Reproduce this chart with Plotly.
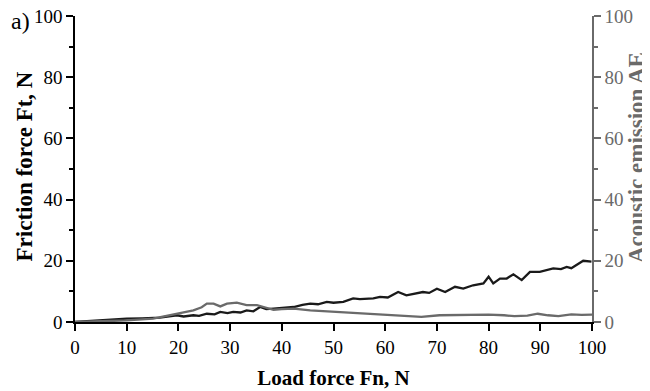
import plotly.graph_objects as go

# Friction force (black)
ft_x = [0, 3, 6, 10, 13, 16.4, 19.7, 21, 22.9, 24, 25.5, 27, 28.1, 29.5, 30.6, 32, 33.2, 34.5, 35.8, 37, 38.4, 40, 42.3, 44, 45.5, 47, 48.7, 50, 51.9, 53.8, 55.1, 57.7, 59, 60.5, 62.5, 64.1, 65.5, 67.3, 68.5, 70, 71.6, 73.5, 75.1, 77, 79, 80, 80.9, 82.2, 83.5, 84.8, 86.4, 88, 89.9, 91, 92.5, 94, 95.1, 96, 97, 98.3, 99.9]
ft_y = [0, 0.4, 0.7, 1.1, 1.2, 1.4, 2.2, 1.8, 2.2, 2.0, 2.7, 2.5, 3.3, 2.9, 3.3, 3.1, 3.8, 3.5, 4.9, 4.2, 4.4, 4.6, 4.9, 5.6, 6.0, 5.8, 6.6, 6.3, 6.6, 7.7, 7.5, 7.7, 8.2, 8.0, 9.8, 8.7, 9.2, 9.8, 9.5, 10.9, 9.8, 11.5, 10.9, 12.0, 12.6, 14.8, 12.6, 14.2, 14.2, 15.6, 13.7, 16.4, 16.4, 16.8, 17.5, 17.3, 18.0, 17.6, 18.6, 20.0, 19.7]

# Acoustic emission (gray)
ae_x = [0, 5, 10, 15.1, 18.3, 20.2, 22.9, 24.5, 25.5, 26.8, 28.1, 29.4, 31.3, 33.2, 35.2, 36.5, 38.4, 40, 42.3, 45.5, 48.7, 51.9, 55.1, 58, 62, 65, 67, 70.5, 75, 80, 83, 85, 87.5, 89.5, 91.5, 93.5, 96, 98, 100]
ae_y = [0, 0.2, 0.5, 1.1, 2.2, 3.0, 3.8, 4.8, 6.0, 6.0, 5.1, 6.0, 6.3, 5.5, 5.5, 4.9, 4.0, 4.2, 4.4, 3.8, 3.5, 3.3, 3.0, 2.7, 2.2, 2.0, 1.7, 2.2, 2.3, 2.4, 2.2, 1.9, 2.1, 2.7, 2.2, 1.9, 2.5, 2.3, 2.4]

font = "Liberation Serif"
gray = "#6a6a6a"

fig = go.Figure()
fig.add_trace(go.Scatter(x=ft_x, y=ft_y, mode="lines", line=dict(color="#1a1a1a", width=2.3), showlegend=False))
fig.add_trace(go.Scatter(x=ae_x, y=ae_y, mode="lines", yaxis="y2", line=dict(color=gray, width=2.3), showlegend=False))

fig.update_layout(
    width=650, height=391,
    margin=dict(l=67, r=66, t=8, b=77),
    paper_bgcolor="white", plot_bgcolor="white",
    font=dict(family=font, size=19, color="black"),
    xaxis=dict(range=[0, 100], dtick=10, showline=True, linecolor="black", linewidth=1.5, automargin=False,
               ticks="outside", ticklen=7, tickwidth=1.5, tickcolor="black", showgrid=False, zeroline=False,
               ticklabeloverflow="allow",
               title=dict(text="<b>Load force Fn, N</b>", font=dict(size=21), standoff=14)),
    yaxis=dict(range=[0, 100], dtick=20, showline=True, linecolor="black", linewidth=1.5, automargin=False,
               ticks="outside", ticklen=7, tickwidth=1.5, tickcolor="black", showgrid=False, zeroline=False,
               ticklabeloverflow="allow",
               minor=dict(dtick=10, ticks="outside", ticklen=4, tickwidth=1.5, tickcolor="black", showgrid=False)),
    yaxis2=dict(range=[0, 100], dtick=20, overlaying="y", side="right", showline=True, linecolor=gray, linewidth=1.5,
                automargin=False, ticklabeloverflow="allow",
                ticks="outside", ticklen=7, tickwidth=1.5, tickcolor=gray, showgrid=False, zeroline=False,
                tickfont=dict(color=gray),
                minor=dict(dtick=10, ticks="outside", ticklen=4, tickwidth=1.5, tickcolor=gray, showgrid=False)),
    annotations=[
        dict(text="a)", xref="paper", yref="paper", x=-0.106, y=0.984, xanchor="center", yanchor="middle",
             showarrow=False, font=dict(size=24, family=font)),
        dict(text="<b>Friction force Ft, N</b>", xref="paper", yref="paper", x=-0.0977, y=0.51,
             xanchor="center", yanchor="middle", textangle=-90, showarrow=False,
             font=dict(size=23, family=font, color="black")),
        dict(text="<b>Acoustic emission AE</b>", xref="paper", yref="paper", x=1.085, y=0.539,
             xanchor="center", yanchor="middle", textangle=-90, showarrow=False,
             font=dict(size=23, family=font, color=gray)),
    ],
)

fig.write_html("out.html")
